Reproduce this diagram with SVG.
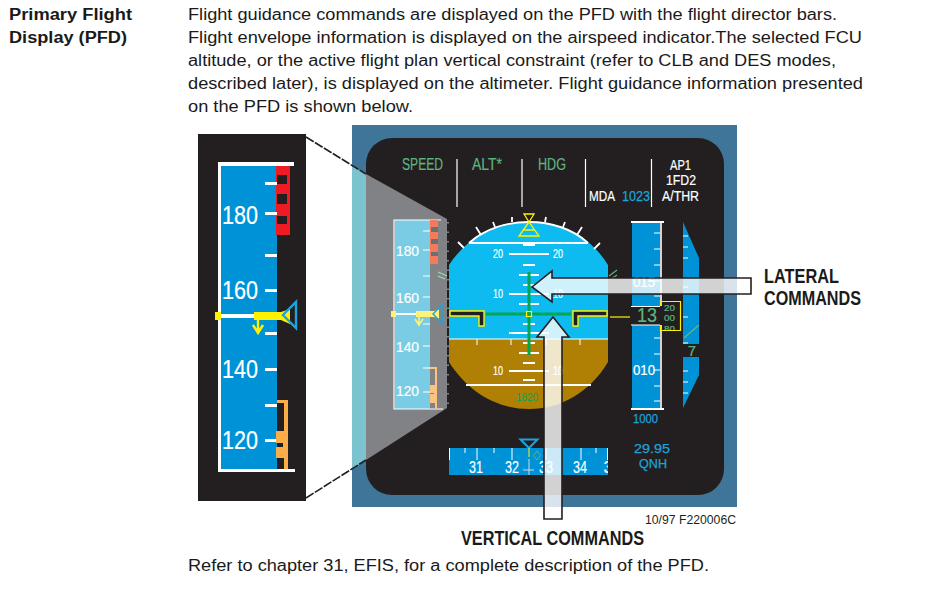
<svg xmlns="http://www.w3.org/2000/svg" width="941" height="589" viewBox="0 0 941 589">
<style>
text{font-family:"Liberation Sans",Arial,sans-serif}
.b{font-size:16px;fill:#1a1a1a}
.h{font-size:16px;font-weight:bold;fill:#1a1a1a}
.c{font-size:19.500px;font-weight:bold;fill:#1a1a1a}
.g{fill:#5cb581;font-size:16.500px;stroke:#5cb581;stroke-width:.2}
.w{fill:#fff;stroke:#fff;stroke-width:.2}
.bl{fill:#1ba3dc;stroke:#1ba3dc;stroke-width:.25}
.lad{stroke:#fff;stroke-width:2;fill:none}
.tk{fill:#fff}
.m{text-anchor:middle}
.arrow{fill:#fff;fill-opacity:.8;stroke:#231f20;stroke-width:1.600;stroke-linejoin:miter}
.dash{stroke:#231f20;stroke-width:1.600;stroke-dasharray:9 1.500;fill:none}
</style>
<rect width="941" height="589" fill="#fff"/>
<g id="heading">
<text class="h" x="9" y="20" textLength="123" lengthAdjust="spacingAndGlyphs">Primary Flight</text>
<text class="h" x="9" y="43" textLength="118" lengthAdjust="spacingAndGlyphs">Display (PFD)</text>
</g>
<g id="description">
<text class="b" x="188" y="20" textLength="649" lengthAdjust="spacingAndGlyphs">Flight guidance commands are displayed on the PFD with the flight director bars.</text>
<text class="b" x="188" y="43" textLength="674" lengthAdjust="spacingAndGlyphs">Flight envelope information is displayed on the airspeed indicator.The selected FCU</text>
<text class="b" x="188" y="66" textLength="648" lengthAdjust="spacingAndGlyphs">altitude, or the active flight plan vertical constraint (refer to CLB and DES modes,</text>
<text class="b" x="188" y="89" textLength="675" lengthAdjust="spacingAndGlyphs">described later), is displayed on the altimeter. Flight guidance information presented</text>
<text class="b" x="188" y="112" textLength="225" lengthAdjust="spacingAndGlyphs">on the PFD is shown below.</text>
<text class="b" x="188" y="571" textLength="521" lengthAdjust="spacingAndGlyphs">Refer to chapter 31, EFIS, for a complete description of the PFD.</text>
</g>

<g id="enlarged-speed-scale">
<rect x="198" y="134" width="108" height="367" fill="#231f20"/>
<rect x="221" y="166" width="56" height="303" fill="#0092d6"/>
<path d="M218 162H294V166H221V469H295V472H218Z" fill="#fff"/>
<path d="M276 166H290V235H276Z" fill="#ed1c24"/>
<g fill="#231f20"><rect x="277" y="175" width="10" height="9"/><rect x="277" y="194" width="10" height="10"/><rect x="277" y="216" width="10" height="8"/></g>
<g class="tk"><rect x="265" y="182" width="12" height="3"/><rect x="265" y="212" width="12" height="3"/><rect x="265" y="254" width="12" height="3"/><rect x="265" y="289" width="12" height="3"/><rect x="265" y="332" width="12" height="3"/><rect x="265" y="368" width="12" height="3"/><rect x="265" y="404" width="12" height="3"/><rect x="265" y="439" width="12" height="3"/></g>
<path d="M277 400H288V469H284V403H277Z" fill="#fbad4a"/>
<path d="M276 431H288V458H276V447H283V443H276Z" fill="#fbad4a"/>
<text class="w" x="222" y="224" font-size="25" textLength="36" lengthAdjust="spacingAndGlyphs">180</text>
<text class="w" x="222" y="299" font-size="25" textLength="36" lengthAdjust="spacingAndGlyphs">160</text>
<text class="w" x="222" y="378" font-size="25" textLength="36" lengthAdjust="spacingAndGlyphs">140</text>
<text class="w" x="222" y="449" font-size="25" textLength="36" lengthAdjust="spacingAndGlyphs">120</text>
<rect x="220" y="314" width="35" height="4" fill="#fff"/>
<rect x="215" y="312" width="6" height="8" fill="#fff200"/>
<path d="M254 312H281L290 309V324L281 320H254Z" fill="#fff200"/>
<path d="M296 302V328L283 315Z" fill="none" stroke="#1ba3dc" stroke-width="2.400"/>
<path d="M258 320V332M253 325L258 333L263 325" fill="none" stroke="#fff200" stroke-width="2.400"/>
</g>

<g id="pfd">
<rect x="352" y="125" width="385" height="382" fill="#3f7599"/>
<rect x="366" y="138" width="358" height="357" rx="26" fill="#231f20"/>

<g id="fma">
<g stroke="#fff" stroke-width="1.200"><path d="M457 159V207M522 159V207M585.500 159V207M651.500 159V207"/></g>
<text class="g" x="402" y="170" textLength="41" lengthAdjust="spacingAndGlyphs">SPEED</text>
<text class="g" x="472" y="170" textLength="30" lengthAdjust="spacingAndGlyphs">ALT*</text>
<text class="g" x="538" y="170" textLength="28" lengthAdjust="spacingAndGlyphs">HDG</text>
<text class="w" x="589" y="201" font-size="14" textLength="26" lengthAdjust="spacingAndGlyphs">MDA</text>
<text class="bl" x="622" y="201" font-size="14" textLength="28" lengthAdjust="spacingAndGlyphs">1023</text>
<text class="w" x="670" y="170" font-size="14" textLength="21" lengthAdjust="spacingAndGlyphs">AP1</text>
<text class="w" x="666" y="185" font-size="14" textLength="30" lengthAdjust="spacingAndGlyphs">1FD2</text>
<text class="w" x="662" y="201" font-size="14" textLength="37" lengthAdjust="spacingAndGlyphs">A/THR</text>
</g>

<g id="attitude">
<path d="M449 339V265C468 236 497 222 529 222C561 222 590 236 608 265V339Z" fill="#0dbbf0"/>
<path d="M449 339H608V362C590 392 561 409 529 409C497 409 468 392 449 362Z" fill="#b08004"/>
<path d="M449 339H608" stroke="#fff" stroke-width="1.200"/>
<path d="M469 243H588M466 385H591" stroke="#fff" stroke-width="2"/>
<path d="M469 243C485 229 507 222 529 222C551 222 573 229 588 243" fill="none" stroke="#fff" stroke-width="2"/>
<path d="M458 242L464 248M476 227L481 235M493 222L495 227M512 217V222M546 217L545 222M565 222L563 227M582 227L577 235M600 243L594 249" stroke="#fff" stroke-width="1.800"/>
<path d="M477 339V345M511 339V345M546 339V345M580 339V345" stroke="#fff" stroke-width="1"/>
<path class="lad" d="M523 245H535M509 254H549M523 265H535M519 275H539M523 285H535M509 294H549M519 304H539M523 324H535M509 333H549M523 343H535M519 353H539M523 363H535M509 371H549M523 380H535"/>
<text class="w m" x="498" y="258" font-size="12" textLength="10" lengthAdjust="spacingAndGlyphs">20</text><text class="w m" x="558" y="258" font-size="12" textLength="10" lengthAdjust="spacingAndGlyphs">20</text>
<text class="w m" x="498" y="298" font-size="12" textLength="10" lengthAdjust="spacingAndGlyphs">10</text><text class="w m" x="558" y="298" font-size="12" textLength="10" lengthAdjust="spacingAndGlyphs">10</text>
<text class="w m" x="498" y="375" font-size="12" textLength="10" lengthAdjust="spacingAndGlyphs">10</text><text class="w m" x="558" y="375" font-size="12" textLength="10" lengthAdjust="spacingAndGlyphs">10</text>
<text class="m" x="527" y="401" font-size="10" fill="#00a651" textLength="22" lengthAdjust="spacingAndGlyphs">1820</text>
<path d="M524 214H534L529 222ZM529 222L519 236H539ZM524 230H534" fill="none" stroke="#fff200" stroke-width="1.300"/>
<path d="M529 272V355M486 314H571" stroke="#00a651" stroke-width="3"/>
<rect x="526.500" y="311.500" width="5" height="5" fill="none" stroke="#fff200" stroke-width="1.200"/>
<path d="M450 311H484V326H479V316H450Z" fill="#231f20" stroke="#fff200" stroke-width="1.400"/>
<path d="M607 311H573V326H578V316H607Z" fill="#231f20" stroke="#fff200" stroke-width="1.400"/>
<path d="M610 317H630" stroke="#fff200" stroke-width="1.200"/>
<path d="M609 276L617 270M611 279L617 275" stroke="#5cb581" stroke-width="1.200"/>
</g>

<g id="altitude-scale">
<rect x="632" y="222" width="28" height="84" fill="#0092d6"/>
<rect x="632" y="325" width="28" height="84" fill="#0092d6"/>
<path d="M631 222H664M631 409H664" stroke="#fff" stroke-width="2"/>
<path d="M661 222V306M661 325V409" stroke="#fff" stroke-width="1.600"/>
<path d="M631 306.500H660M631 325H660" stroke="#fff" stroke-width="1"/>
<path d="M654 233H660M654 249H660M654 265H660M654 281H660M654 296H660M654 338H660M654 354H660M654 370H660M654 386H660M654 401H660" stroke="#fff" stroke-width="1.200"/>
<text class="w" x="633" y="287" font-size="14" textLength="22" lengthAdjust="spacingAndGlyphs">015</text>
<text class="w" x="633" y="375" font-size="14" textLength="22" lengthAdjust="spacingAndGlyphs">010</text>
<text class="bl" x="633" y="423" font-size="13.500" textLength="25" lengthAdjust="spacingAndGlyphs">1000</text>
<text class="g" x="637" y="322" style="font-size:21px" textLength="20" lengthAdjust="spacingAndGlyphs">13</text>
<clipPath id="wnd"><rect x="660" y="301" width="20" height="30"/></clipPath>
<g clip-path="url(#wnd)"><text class="g" x="664" y="311" style="font-size:9.500px" textLength="11" lengthAdjust="spacingAndGlyphs">20</text>
<text class="g" x="664" y="321" style="font-size:9.500px" textLength="11" lengthAdjust="spacingAndGlyphs">00</text>
<text class="g" x="664" y="332" style="font-size:9.500px" textLength="11" lengthAdjust="spacingAndGlyphs">80</text></g>
<path d="M660.500 306V301.500H680.500V330.500H660.500V325" fill="none" stroke="#fff200" stroke-width="1.200"/>
<text class="bl" x="634" y="452.500" font-size="13" textLength="36" lengthAdjust="spacingAndGlyphs" letter-spacing="0">29.95</text>
<text class="bl" x="639" y="468" font-size="13" textLength="28" lengthAdjust="spacingAndGlyphs">QNH</text>
</g>

<g id="vertical-speed">
<path d="M683 222L699 258V344H683Z" fill="#0092d6"/>
<path d="M683 357H699V375L683 408Z" fill="#0092d6"/>
<path d="M683 236H688M683 247H688M683 258H688M683 287H688M683 317H688M683 343H688M683 371H688M683 382H688M683 393H688" stroke="#fff" stroke-width="1.200"/>
<path d="M684 338L699 325" stroke="#5cb581" stroke-width="1.600"/>
<text class="g m" x="692" y="356" style="font-size:15px">7</text>
</g>

<g id="heading-scale">
<rect x="449" y="448" width="159" height="27" fill="#0092d6"/>
<path d="M477 448V460M512 448V460M546 448V460M581 448V460M465 448V453M494 448V453M596 448V453M449.500 448V460M607.500 448V460" stroke="#fff" stroke-width="1"/>
<clipPath id="hdg"><rect x="449" y="448" width="159" height="27"/></clipPath>
<g clip-path="url(#hdg)">
<text class="w m" x="476" y="473" font-size="16.500" textLength="14" lengthAdjust="spacingAndGlyphs">31</text><text class="w m" x="512" y="473" font-size="16.500" textLength="14" lengthAdjust="spacingAndGlyphs">32</text><text class="w m" x="546" y="473" font-size="16.500" textLength="14" lengthAdjust="spacingAndGlyphs">33</text><text class="w m" x="580" y="473" font-size="16.500" textLength="14" lengthAdjust="spacingAndGlyphs">34</text><text class="w m" x="608" y="473" font-size="16.500">3</text></g>
<path d="M529 459V475M523 470H534" stroke="#d8d8d8" stroke-width="1"/>
<path d="M520.500 439.500H537.500L529 448Z" fill="#231f20" stroke="#1ba3dc" stroke-width="2"/>
<path d="M529 448V457" stroke="#fff200" stroke-width="1"/>
<path d="M537 451L540.500 455.500L537 460L533.500 455.500Z" fill="none" stroke="#5cb581" stroke-width="1"/>
</g>

<g id="speed-scale-highlight">
<path d="M352 166L366 174V460L352 469Z" fill="#7ac3cf"/>
<path d="M366 174L447 219V408L366 460Z" fill="#808285"/>
<path d="M448 222V408" stroke="#808285" stroke-width="2" stroke-dasharray="1.500 8"/>
<rect x="395" y="220" width="35" height="189" fill="#7acce4"/>
<path d="M394 409.500V220H441M394 409H443" fill="none" stroke="#fff" stroke-width="1.200"/>
<path d="M430 220H438V264H430Z" fill="#f47a5c"/>
<g fill="#6d6e71"><rect x="431" y="227" width="7" height="5"/><rect x="431" y="239" width="7" height="5"/><rect x="431" y="252" width="7" height="4"/></g>
<path d="M423 231H430M423 250H430M423 276H430M423 297H430M423 324H430M423 346H430M423 368H430M423 392H430" stroke="#fff" stroke-width="1.200"/>
<path d="M430 367H437V409H435V369H430ZM430 385H436V403H430V394H434V393H430Z" fill="#fbc380"/>
<text class="w" x="396" y="256" font-size="15" textLength="23" lengthAdjust="spacingAndGlyphs">180</text>
<text class="w" x="396" y="303" font-size="15" textLength="23" lengthAdjust="spacingAndGlyphs">160</text>
<text class="w" x="396" y="352" font-size="15" textLength="23" lengthAdjust="spacingAndGlyphs">140</text>
<text class="w" x="396" y="396" font-size="15" textLength="23" lengthAdjust="spacingAndGlyphs">120</text>
<rect x="396" y="313" width="21" height="2" fill="#fff"/>
<rect x="391" y="311" width="5" height="6" fill="#fff275"/>
<path d="M416 311H434L439 309V319L434 317H416Z" fill="#fff275"/>
<path d="M442 305V323L433 314Z" fill="none" stroke="#1ba3dc" stroke-width="1.400"/>
<path d="M419 317V323M415 319L419 325L423 319" fill="none" stroke="#fff275" stroke-width="1.600"/>
<path d="M438 272L447 276M438 276L445 279" stroke="#a6d8b8" stroke-width="1.200"/>
</g>
</g>

<g id="connectors">
<path class="dash" d="M306 137L366 174"/>
<path class="dash" d="M306 498L366 460"/>
<path id="lateral-arrow" class="arrow" d="M532 287L552 271V278H751V294H552V302Z"/>
<path id="vertical-arrow" class="arrow" d="M553 317L569 337H562V519H544V337H537Z"/>
</g>

<g id="labels">
<text class="c" x="764" y="283" textLength="75" lengthAdjust="spacingAndGlyphs">LATERAL</text>
<text class="c" x="764" y="305" textLength="97" lengthAdjust="spacingAndGlyphs">COMMANDS</text>
<text class="c" x="461" y="545" textLength="183" lengthAdjust="spacingAndGlyphs">VERTICAL COMMANDS</text>
<text x="645" y="524" font-size="12" fill="#231f20" textLength="91" lengthAdjust="spacingAndGlyphs">10/97 F220006C</text>
</g>
</svg>
